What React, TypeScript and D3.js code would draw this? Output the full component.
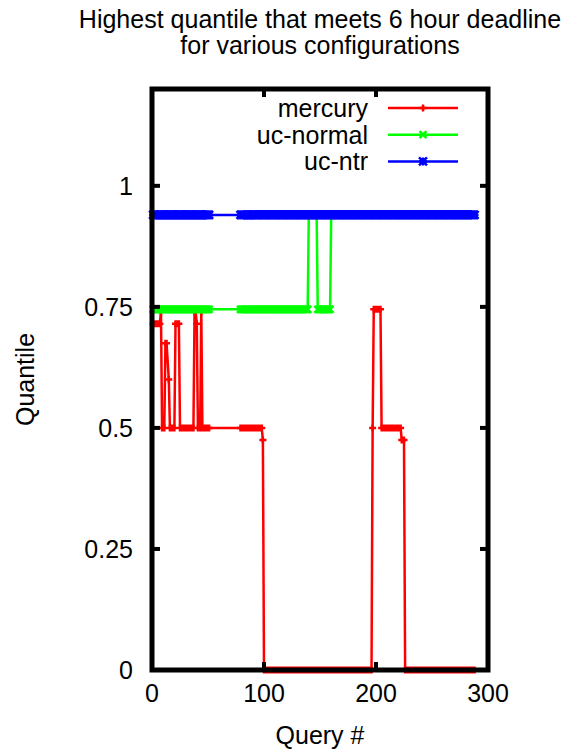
import React from "react";
import * as d3 from "d3";

// Runs of [first query #, last query #, quantile]
const mercuryRuns: [number, number, number][] = [
  [1, 7, 0.715], [8, 8, 0.74], [9, 11, 0.5], [12, 13, 0.675], [15, 15, 0.6],
  [16, 20, 0.5], [21, 24, 0.715], [25, 37, 0.5], [38, 39, 0.74], [40, 40, 0.715],
  [41, 43, 0.5], [44, 44, 0.74], [45, 51, 0.5], [79, 98, 0.5], [99, 99, 0.475],
  [100, 196, 0], [197, 197, 0.5], [198, 204, 0.745], [205, 222, 0.5],
  [223, 225, 0.475], [226, 288, 0],
];
const ucNormalRuns: [number, number, number][] = [
  [1, 51, 0.745], [79, 139, 0.745], [140, 147, 0.94], [148, 159, 0.745], [160, 288, 0.94],
];
const ucNtrRuns: [number, number, number][] = [
  [1, 51, 0.94], [79, 288, 0.94],
];

const seriesNames = ["mercury", "uc-normal", "uc-ntr"];
const seriesColors = ["#ff0000", "#00ff00", "#0000ff"];
const xTicks = [0, 100, 200, 300];
const yTicks = [0, 0.25, 0.5, 0.75, 1];
const yTickLabels = ["0", "0.25", "0.5", "0.75", "1"];
const titleLines = ["Highest quantile that meets 6 hour deadline", "for various configurations"];

const expand = (runs: [number, number, number][]) =>
  runs.flatMap(([a, b, v]) => d3.range(a, b + 1).map((q) => ({ q, v })));

const W = 579, H = 750;
const L = 152, R = 488, T = 89, B = 670;
const FONT = "'Liberation Sans', Arial, Helvetica, sans-serif";
const FS = 25;

function markerPath(kind: number, x: number, y: number, s: number) {
  const plus = `M${x - s},${y}H${x + s}M${x},${y - s}V${y + s}`;
  const cross = `M${x - s},${y - s}L${x + s},${y + s}M${x - s},${y + s}L${x + s},${y - s}`;
  if (kind === 0) return plus;
  if (kind === 1) return cross;
  return plus + cross;
}

export default function App() {
  const x = d3.scaleLinear().domain([0, 300]).range([L, R]);
  const y = d3.scaleLinear().domain([0, 1.2]).range([B, T]);
  const data = [expand(mercuryRuns), expand(ucNormalRuns), expand(ucNtrRuns)];
  const line = d3.line<{ q: number; v: number }>().x((d) => x(d.q)).y((d) => y(d.v));
  const msize = [3.5, 3.5, 4];

  return (
    <svg width={W} height={H} style={{ position: "absolute", left: 0, top: 0, background: "#fff" }}
      fontFamily={FONT} fontSize={FS}>
      <rect x={0} y={0} width={W} height={H} fill="#fff" />
      {titleLines.map((t, i) => (
        <text key={t} x={(L + R) / 2} y={28 + i * 26} textAnchor="middle" fill="#000">{t}</text>
      ))}
      {data.map((pts, i) => (
        <g key={seriesNames[i]}>
          <path d={line(pts) || ""} fill="none" stroke={seriesColors[i]} strokeWidth={2.5} />
          <path d={pts.map((p) => markerPath(i, x(p.q), y(p.v), msize[i])).join("")}
            fill="none" stroke={seriesColors[i]} strokeWidth={2.5} />
        </g>
      ))}
      {/* legend */}
      {seriesNames.map((n, i) => {
        const ly = 108 + i * 26.7;
        return (
          <g key={"lg" + n}>
            <text x={368} y={ly + 9} textAnchor="end" fill="#000">{n}</text>
            <line x1={388} x2={458} y1={ly} y2={ly} stroke={seriesColors[i]} strokeWidth={2.5} />
            <path d={markerPath(i, 423, ly, msize[i])} fill="none" stroke={seriesColors[i]} strokeWidth={2.5} />
          </g>
        );
      })}
      {/* ticks */}
      {yTicks.map((t) => (
        <g key={"yt" + t}>
          <line x1={L} x2={L + 8} y1={y(t)} y2={y(t)} stroke="#000" strokeWidth={4} />
          <line x1={R} x2={R - 8} y1={y(t)} y2={y(t)} stroke="#000" strokeWidth={4} />
        </g>
      ))}
      {xTicks.map((t) => (
        <g key={"xt" + t}>
          <line x1={x(t)} x2={x(t)} y1={B} y2={B - 8} stroke="#000" strokeWidth={4} />
          <line x1={x(t)} x2={x(t)} y1={T} y2={T + 8} stroke="#000" strokeWidth={4} />
        </g>
      ))}
      <rect x={L} y={T} width={R - L} height={B - T} fill="none" stroke="#000" strokeWidth={5} />
      {yTicks.map((t, i) => (
        <text key={"yl" + t} x={133} y={y(t)} dy="0.36em" textAnchor="end" fill="#000">{yTickLabels[i]}</text>
      ))}
      {xTicks.map((t) => (
        <text key={"xl" + t} x={x(t)} y={702} textAnchor="middle" fill="#000">{t}</text>
      ))}
      <text x={(L + R) / 2} y={744} textAnchor="middle" fill="#000">Query #</text>
      <text transform={`translate(34,${(T + B) / 2}) rotate(-90)`} textAnchor="middle" fill="#000">Quantile</text>
    </svg>
  );
}
